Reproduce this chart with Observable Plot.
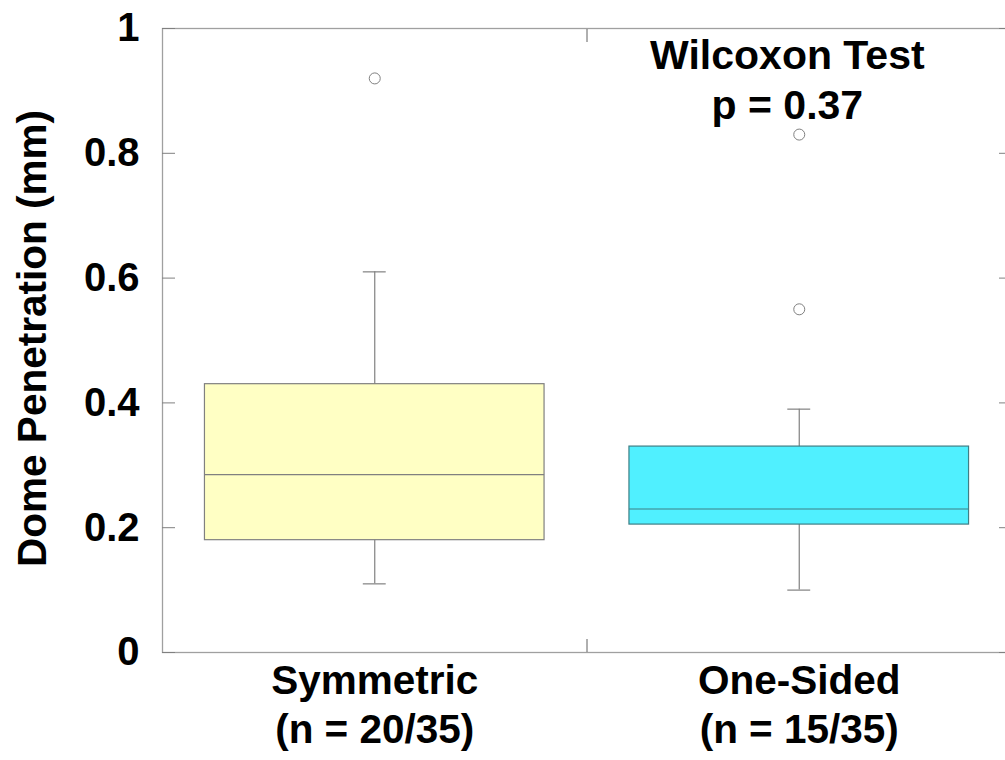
<!DOCTYPE html>
<html>
<head>
<meta charset="utf-8">
<script src="https://cdn.jsdelivr.net/npm/d3@7"></script>
<script src="https://cdn.jsdelivr.net/npm/@observablehq/plot@0.6"></script>
<style>
  html, body { margin: 0; padding: 0; background: #fff; }
  #chart svg { display: block; }
</style>
</head>
<body>
<div id="chart"></div>
<script>
// ---- data ----
const groups = ["Symmetric\n(n = 20/35)", "One-Sided\n(n = 15/35)"];
const positions = [1, 2];
const q1 = [0.18, 0.205];
const median = [0.285, 0.23];
const q3 = [0.43, 0.33];
const whiskerLow = [0.11, 0.10];
const whiskerHigh = [0.61, 0.39];
const boxFill = ["#ffffc4", "#50f0ff"];
const boxStroke = ["#808080", "#3f7f86"];
const outlierGroup = [1, 2, 2];
const outlierValue = [0.92, 0.83, 0.55];
const yTicks = [0, 0.2, 0.4, 0.6, 0.8, 1];
const yTickLabels = ["0", "0.2", "0.4", "0.6", "0.8", "1"];
const annotation = "Wilcoxon Test\np = 0.37";
const yLabel = "Dome Penetration (mm)";

// ---- tables ----
const boxes = positions.map((p, i) => ({
  pos: p, label: groups[i], q1: q1[i], median: median[i], q3: q3[i],
  lo: whiskerLow[i], hi: whiskerHigh[i], fill: boxFill[i], stroke: boxStroke[i]
}));
const outliers = outlierGroup.map((g, i) => ({pos: g, value: outlierValue[i]}));
const halfBox = 0.4;
const halfCap = 0.027;
const font = "Liberation Sans, Arial, sans-serif";

const chart = Plot.plot({
  width: 1005,
  height: 760,
  marginLeft: 162,
  marginRight: -6,
  marginTop: 28,
  marginBottom: 108,
  style: {fontFamily: font, fontWeight: "bold", color: "#000", background: "#fff"},
  x: {domain: [0.5, 2.5], axis: null},
  y: {domain: [0, 1], axis: null},
  marks: [
    // whiskers
    Plot.ruleX(boxes, {x: "pos", y1: "lo", y2: "hi", stroke: "#808080", strokeWidth: 1.2}),
    Plot.ruleY(boxes, {y: "lo", x1: d => d.pos - halfCap, x2: d => d.pos + halfCap, stroke: "#808080", strokeWidth: 1.2}),
    Plot.ruleY(boxes, {y: "hi", x1: d => d.pos - halfCap, x2: d => d.pos + halfCap, stroke: "#808080", strokeWidth: 1.2}),
    // boxes
    Plot.rect(boxes, {x1: d => d.pos - halfBox, x2: d => d.pos + halfBox, y1: "q1", y2: "q3",
      fill: d => d.fill, stroke: d => d.stroke, strokeWidth: 1.2}),
    Plot.ruleY(boxes, {y: "median", x1: d => d.pos - halfBox, x2: d => d.pos + halfBox, stroke: d => d.stroke, strokeWidth: 1.2}),
    // outliers
    Plot.dot(outliers, {x: "pos", y: "value", r: 5.5, fill: "#fff", stroke: "#808080", strokeWidth: 1}),
    // frame
    Plot.frame({stroke: "#a0a0a0", strokeWidth: 1.3}),
    // inward ticks
    Plot.axisY({ticks: yTicks, anchor: "left", tickSize: -13, fill: "none", stroke: "#808080", label: null}),
    Plot.axisY({ticks: yTicks, anchor: "right", tickSize: -13, fill: "none", stroke: "#808080", label: null}),
    Plot.axisX({ticks: [1.5], anchor: "bottom", tickSize: -13, fill: "none", stroke: "#606060", label: null}),
    Plot.axisX({ticks: [1.5], anchor: "top", tickSize: -13, fill: "none", stroke: "#606060", label: null}),
    // tick labels
    Plot.axisY({ticks: yTicks, anchor: "left", tickSize: 0, tickPadding: 23,
      tickFormat: d => yTickLabels[yTicks.indexOf(d)], fontSize: 40, fontWeight: "bold",
      fill: "#000", label: null}),
    Plot.axisX({ticks: positions, anchor: "bottom", tickSize: 0, tickPadding: 7,
      tickFormat: d => groups[positions.indexOf(d)], fontSize: 40.5, fontWeight: "bold",
      lineHeight: 1.21, fill: "#000", label: null}),
    // y label
    Plot.text([yLabel], {frameAnchor: "left", textAnchor: "middle", rotate: -90, dx: -129, dy: -2,
      fontSize: 40.5, fontWeight: "bold", fill: "#000"}),
    // annotation
    Plot.text([annotation], {x: 1.972, y: 1, lineAnchor: "top", dy: 6, fontSize: 41, fontWeight: "bold",
      lineHeight: 1.2, fill: "#000"})
  ]
});
document.getElementById("chart").appendChild(chart);
</script>
</body>
</html>
